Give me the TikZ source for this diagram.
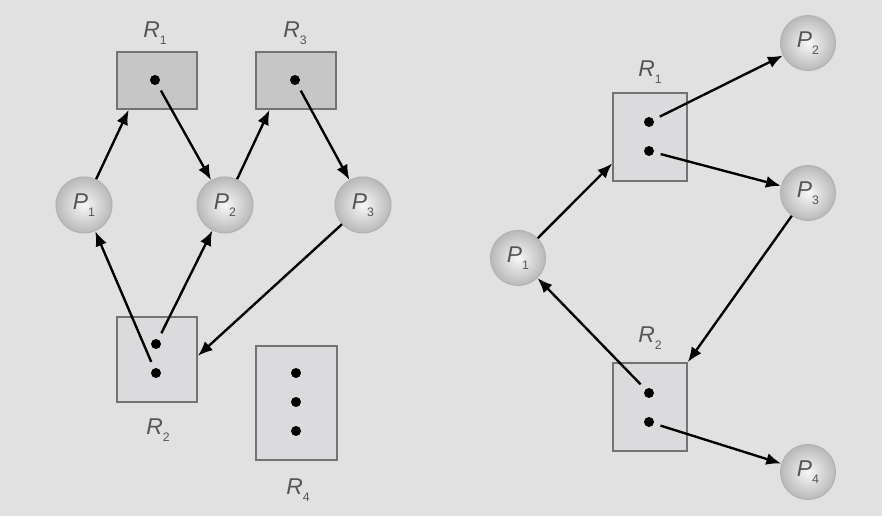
\documentclass[tikz,border=0pt]{standalone}
\usepackage{fontspec}
\setsansfont{Liberation Sans}
\usepackage{xcolor}
\usetikzlibrary{arrows.meta}
\definecolor{bgc}{RGB}{225,225,225}
\definecolor{resl}{RGB}{219,219,222}
\definecolor{resd}{RGB}{198,198,198}
\definecolor{txt}{RGB}{85,85,85}
\newcommand{\nm}[2]{\textit{#1}\raisebox{-0.6ex}{\scriptsize #2}}

\begin{document}
\begin{tikzpicture}[
  x=0.02cm, y=-0.02cm,
  font=\sffamily\fontsize{13}{15}\selectfont, text=txt,
  proc/.style={circle, draw=gray!60, line width=0.6pt, inner color=gray!6,
               outer color=gray!55, minimum size=1.1cm, inner sep=0pt},
  res/.style={draw=black!55, line width=0.9pt, fill=resl, inner sep=0pt},
  resdark/.style={res, fill=resd},
  inst/.style={circle, fill=black, inner sep=0pt, minimum size=2mm, outer sep=4pt},
  arr/.style={-{Latex[length=3mm,width=2.4mm]}, line width=1.35pt},
]
\fill[bgc] (0,0) rectangle (882,516);

\node[resdark, minimum width=1.6cm, minimum height=1.14cm] (lR1) at (157,80.5) {};
\node[resdark, minimum width=1.6cm, minimum height=1.14cm] (lR3) at (296,80.5) {};
\node[res, minimum width=1.6cm, minimum height=1.7cm] (lR2) at (157,359.5) {};
\node[res, minimum width=1.62cm, minimum height=2.28cm] (lR4) at (296.5,403) {};
\node (lR1lab) at (155,33) {\nm{R}{1}};
\node (lR3lab) at (295,33) {\nm{R}{3}};
\node (lR2lab) at (158,430) {\nm{R}{2}};
\node (lR4lab) at (298,490) {\nm{R}{4}};

\node[inst] (lR1a) at (155,80) {};
\node[inst] (lR3a) at (295,80) {};
\node[inst] (lR2a) at (156,344) {};
\node[inst] (lR2b) at (156,373) {};
\node[inst] (lR4a) at (296,373) {};
\node[inst] (lR4b) at (296,402) {};
\node[inst] (lR4c) at (296,431) {};

\node[proc, minimum size=1.12cm] (lP1) at (84,205) {\nm{P}{1}};
\node[proc, minimum size=1.12cm] (lP2) at (225,205) {\nm{P}{2}};
\node[proc, minimum size=1.12cm] (lP3) at (363,205) {\nm{P}{3}};

\draw[arr] (lP1) -- (lR1.226);
\draw[arr] (lR1a) -- (lP2);
\draw[arr] (lP2) -- (lR3.228);
\draw[arr] (lR3a) -- (lP3);
\draw[arr] (lP3) -- (lR2.5);
\draw[arr] (lR2b) -- (lP1);
\draw[arr] (lR2a) -- (lP2);

\node[res, minimum width=1.48cm, minimum height=1.76cm] (rR1) at (650,137) {};
\node[res, minimum width=1.48cm, minimum height=1.76cm] (rR2) at (650,407) {};
\node (rR1lab) at (650,72) {\nm{R}{1}};
\node (rR2lab) at (650,338) {\nm{R}{2}};

\node[inst] (rR1a) at (649,122) {};
\node[inst] (rR1b) at (649,151) {};
\node[inst] (rR2a) at (649,393) {};
\node[inst] (rR2b) at (649,422) {};

\node[proc] (rP1) at (518,258) {\nm{P}{1}};
\node[proc] (rP2) at (808,43) {\nm{P}{2}};
\node[proc] (rP3) at (808,193) {\nm{P}{3}};
\node[proc] (rP4) at (808,472) {\nm{P}{4}};

\draw[arr] (rP1) -- (rR1.215);
\draw[arr] (rR1a) -- (rP2);
\draw[arr] (rR1b) -- (rP3);
\draw[arr] (rP3) -- (rR2.north east);
\draw[arr] (rR2a) -- (rP1);
\draw[arr] (rR2b) -- (rP4);
\end{tikzpicture}
\end{document}
